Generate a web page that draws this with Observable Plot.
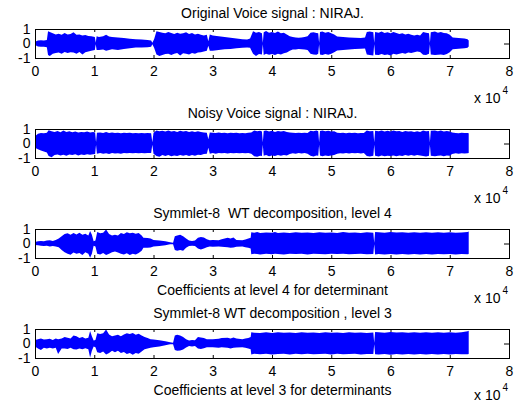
<!DOCTYPE html>
<html>
<head>
<meta charset="utf-8">
<script src="https://cdn.jsdelivr.net/npm/d3@7"></script>
<script src="https://cdn.jsdelivr.net/npm/@observablehq/plot@0.6"></script>
<style>
  html, body { margin: 0; padding: 0; background: #fff; }
  #fig { position: relative; width: 519px; height: 402px; overflow: hidden; background: #fff; }
  #fig svg { position: absolute; left: 0; }
</style>
</head>
<body>
<div id="fig"></div>
<script>
// Axis ticks shared by all four panels (samples, labelled in units of 10^4)
const xTicks = [0, 10000, 20000, 30000, 40000, 50000, 60000, 70000, 80000];
const yTicks = [-1, 0, 1];

const titles = [
  "Original Voice signal : NIRAJ.",
  "Noisy Voice signal : NIRAJ.",
  "Symmlet-8  WT decomposition, level 4",
  "Symmlet-8 WT decomposition , level 3"
];
const xLabels = [
  "",
  "",
  "Coefficients at level 4 for determinant",
  "Coefficients at level 3 for determinants"
];

// Signal envelopes: [sample / 1000, upper peak, lower peak]
const originalEnvelope = [
  [0, 0.12, -0.1], [0.5, 0.2, -0.2], [1, 0.22, -0.22], [1.5, 0.2, -0.22], [2, 0.25, -0.25],
  [2.2, 0.85, -0.8], [2.5, 0.8, -0.86], [3, 0.7, -0.7], [3.5, 0.62, -0.65], [4, 0.68, -0.62],
  [4.5, 0.6, -0.7], [5, 0.72, -0.58], [5.5, 0.62, -0.66], [6, 0.66, -0.6], [6.5, 0.78, -0.62],
  [7, 0.6, -0.7], [7.5, 0.62, -0.58], [8, 0.55, -0.75], [8.5, 0.58, -0.6], [9, 0.52, -0.55],
  [9.5, 0.5, -0.5], [10.1, 0.45, -0.45], [10.25, 0.05, -0.05], [10.4, 0.5, -0.45], [10.8, 0.45, -0.45],
  [11.5, 0.5, -0.42], [12, 0.6, -0.5], [12.5, 0.48, -0.45], [13, 0.45, -0.4], [14, 0.42, -0.45],
  [15, 0.38, -0.38], [16, 0.33, -0.33], [17, 0.3, -0.28], [18, 0.27, -0.27], [19, 0.24, -0.25],
  [19.6, 0.2, -0.22], [19.8, 0.05, -0.05], [20.1, 0.3, -0.3], [20.5, 0.85, -0.75], [21, 0.8, -0.86],
  [21.5, 0.75, -0.8], [22, 0.7, -0.72], [22.5, 0.8, -0.7], [23, 0.72, -0.8], [23.5, 0.65, -0.7],
  [24, 0.75, -0.65], [24.5, 0.68, -0.82], [25, 0.7, -0.68], [25.5, 0.78, -0.7], [26, 0.66, -0.75],
  [26.5, 0.72, -0.66], [27, 0.62, -0.7], [27.5, 0.68, -0.62], [28, 0.6, -0.6], [28.5, 0.55, -0.55],
  [29, 0.6, -0.5], [29.25, 0.15, -0.15], [29.5, 0.62, -0.5], [30, 0.55, -0.5], [31, 0.5, -0.45],
  [32, 0.45, -0.4], [33, 0.4, -0.38], [34, 0.35, -0.33], [35, 0.3, -0.3], [35.8, 0.28, -0.27],
  [36.3, 0.35, -0.3], [36.8, 0.85, -0.7], [37.3, 0.75, -0.86], [37.8, 0.8, -0.72], [38.3, 0.7, -0.75],
  [38.45, 0.05, -0.05], [38.6, 0.78, -0.8], [39, 0.86, -0.7], [39.5, 0.75, -0.78], [40, 0.8, -0.72],
  [40.5, 0.72, -0.8], [41, 0.82, -0.7], [41.5, 0.7, -0.75], [42, 0.75, -0.68], [42.5, 0.62, -0.62],
  [43, 0.5, -0.5], [43.5, 0.45, -0.42], [44, 0.42, -0.42], [44.5, 0.4, -0.38], [45, 0.42, -0.4],
  [45.5, 0.45, -0.42], [46, 0.5, -0.45], [46.5, 0.75, -0.7], [47, 0.78, -0.75], [47.5, 0.72, -0.78],
  [47.8, 0.7, -0.7], [47.95, 0.05, -0.05], [48.1, 0.8, -0.75], [48.5, 0.82, -0.8], [49, 0.75, -0.72],
  [49.5, 0.8, -0.78], [50, 0.7, -0.7], [50.5, 0.62, -0.6], [51, 0.48, -0.48], [52, 0.45, -0.45],
  [53, 0.42, -0.42], [54, 0.4, -0.38], [55, 0.38, -0.36], [55.7, 0.42, -0.35], [56, 0.8, -0.75],
  [56.5, 0.82, -0.8], [57.1, 0.78, -0.82], [57.25, 0.05, -0.05], [57.4, 0.8, -0.78], [58, 0.75, -0.8],
  [58.5, 0.82, -0.72], [59, 0.72, -0.8], [59.5, 0.78, -0.75], [60, 0.7, -0.82], [60.5, 0.8, -0.7],
  [61, 0.72, -0.76], [61.5, 0.65, -0.7], [62, 0.7, -0.65], [62.5, 0.62, -0.7], [63, 0.68, -0.62],
  [63.5, 0.6, -0.66], [64, 0.55, -0.6], [64.5, 0.6, -0.55], [65, 0.55, -0.58], [65.5, 0.8, -0.78],
  [66, 0.75, -0.8], [66.5, 0.7, -0.7], [66.65, 0.05, -0.05], [66.8, 0.78, -0.75], [67.5, 0.82, -0.8],
  [68, 0.75, -0.78], [68.5, 0.8, -0.75], [69, 0.72, -0.8], [69.5, 0.7, -0.72], [70, 0.6, -0.6],
  [70.5, 0.42, -0.4], [71, 0.4, -0.38], [71.5, 0.38, -0.36], [72, 0.36, -0.35], [72.5, 0.35, -0.33],
  [73, 0.3, -0.3], [73.2, 0.2, -0.2]
];

const noisyEnvelope = [
  [0, 0.5, -0.3], [0.5, 0.68, -0.4], [1, 0.72, -0.48], [1.5, 0.7, -0.55], [2, 0.74, -0.62],
  [2.3, 0.92, -0.86], [2.8, 0.84, -0.95], [3.3, 0.8, -0.8], [3.8, 0.86, -0.76], [4.3, 0.78, -0.82],
  [4.8, 0.9, -0.78], [5.3, 0.8, -0.84], [5.8, 0.84, -0.76], [6.3, 0.78, -0.8], [6.8, 0.82, -0.74],
  [7.3, 0.76, -0.82], [7.8, 0.8, -0.76], [8.3, 0.77, -0.8], [8.8, 0.82, -0.74], [9.3, 0.76, -0.78],
  [9.8, 0.8, -0.74], [10.15, 0.76, -0.72], [10.3, 0.08, -0.08], [10.45, 0.74, -0.7], [11, 0.76, -0.66],
  [11.5, 0.72, -0.7], [12, 0.8, -0.68], [12.5, 0.73, -0.72], [13, 0.76, -0.66], [13.5, 0.72, -0.69],
  [14, 0.75, -0.67], [14.5, 0.71, -0.7], [15, 0.74, -0.66], [15.5, 0.72, -0.68], [16, 0.75, -0.65],
  [16.5, 0.71, -0.68], [17, 0.73, -0.66], [17.5, 0.7, -0.68], [18, 0.73, -0.65], [18.5, 0.7, -0.67],
  [19, 0.72, -0.65], [19.6, 0.7, -0.66], [19.8, 0.08, -0.08], [20, 0.74, -0.7], [20.5, 0.9, -0.86],
  [21, 0.84, -0.92], [21.5, 0.88, -0.8], [22, 0.82, -0.86], [22.5, 0.9, -0.8], [23, 0.82, -0.88],
  [23.5, 0.86, -0.82], [24, 0.8, -0.86], [24.5, 0.88, -0.8], [25, 0.82, -0.84], [25.5, 0.86, -0.8],
  [26, 0.8, -0.86], [26.5, 0.85, -0.8], [27, 0.8, -0.84], [27.5, 0.84, -0.78], [28, 0.8, -0.8],
  [28.5, 0.76, -0.72], [29, 0.75, -0.7], [29.25, 0.3, -0.3], [29.5, 0.76, -0.7], [30, 0.74, -0.66],
  [30.5, 0.72, -0.7], [31, 0.76, -0.66], [31.5, 0.72, -0.68], [32, 0.74, -0.66], [32.5, 0.71, -0.69],
  [33, 0.74, -0.66], [33.5, 0.72, -0.68], [34, 0.75, -0.65], [34.5, 0.71, -0.68], [35, 0.73, -0.66],
  [35.5, 0.7, -0.68], [36, 0.74, -0.66], [36.5, 0.76, -0.7], [37, 0.9, -0.88], [37.5, 0.84, -0.92],
  [38, 0.88, -0.84], [38.3, 0.82, -0.86], [38.45, 0.08, -0.08], [38.6, 0.86, -0.84], [39, 0.9, -0.8],
  [39.5, 0.82, -0.88], [40, 0.88, -0.82], [40.5, 0.8, -0.86], [41, 0.86, -0.8], [41.5, 0.82, -0.84],
  [42, 0.86, -0.8], [42.5, 0.8, -0.82], [43, 0.76, -0.72], [43.5, 0.74, -0.68], [44, 0.72, -0.7],
  [44.5, 0.75, -0.66], [45, 0.72, -0.69], [45.5, 0.74, -0.66], [46, 0.73, -0.7], [46.5, 0.88, -0.84],
  [47, 0.84, -0.9], [47.5, 0.9, -0.82], [47.8, 0.84, -0.84], [47.95, 0.08, -0.08], [48.1, 0.86, -0.82],
  [48.5, 0.9, -0.88], [49, 0.84, -0.82], [49.5, 0.88, -0.86], [50, 0.82, -0.82], [50.5, 0.84, -0.8],
  [51, 0.74, -0.7], [51.5, 0.72, -0.67], [52, 0.75, -0.69], [52.5, 0.71, -0.66], [53, 0.74, -0.69],
  [53.5, 0.72, -0.66], [54, 0.75, -0.68], [54.5, 0.71, -0.66], [55, 0.73, -0.69], [55.5, 0.72, -0.66],
  [56, 0.9, -0.86], [56.5, 0.84, -0.9], [57.1, 0.86, -0.84], [57.25, 0.08, -0.08], [57.4, 0.88, -0.84],
  [58, 0.84, -0.9], [58.5, 0.9, -0.82], [59, 0.82, -0.88], [59.5, 0.88, -0.84], [60, 0.82, -0.86],
  [60.5, 0.9, -0.82], [61, 0.84, -0.88], [61.5, 0.86, -0.82], [62, 0.8, -0.86], [62.5, 0.86, -0.8],
  [63, 0.82, -0.84], [63.5, 0.85, -0.8], [64, 0.8, -0.84], [64.5, 0.84, -0.8], [65, 0.8, -0.82],
  [65.5, 0.9, -0.86], [66, 0.84, -0.9], [66.5, 0.86, -0.84], [66.65, 0.08, -0.08], [66.8, 0.88, -0.84],
  [67.5, 0.9, -0.88], [68, 0.84, -0.84], [68.5, 0.9, -0.82], [69, 0.82, -0.88], [69.5, 0.86, -0.82],
  [70, 0.82, -0.84], [70.4, 0.76, -0.72], [71, 0.73, -0.68], [71.5, 0.71, -0.7], [72, 0.74, -0.67],
  [72.5, 0.72, -0.69], [73, 0.73, -0.68], [73.2, 0.7, -0.66]
];

const level4Envelope = [
  [0, 0.1, -0.1], [0.5, 0.15, -0.12], [1, 0.18, -0.15], [1.5, 0.16, -0.18], [2, 0.2, -0.15],
  [2.5, 0.22, -0.2], [3, 0.18, -0.18], [3.5, 0.25, -0.2], [4, 0.35, -0.25], [4.5, 0.5, -0.45],
  [5, 0.65, -0.6], [5.5, 0.7, -0.7], [6, 0.6, -0.78], [6.5, 0.72, -0.62], [7, 0.62, -0.7],
  [7.5, 0.75, -0.65], [8, 0.6, -0.8], [8.5, 0.68, -0.6], [9, 0.55, -0.7], [9.3, 0.86, -0.98],
  [9.6, 0.6, -0.7], [9.9, 0.15, -0.15], [10.2, 0.2, -0.2], [10.5, 0.8, -0.7], [11, 0.7, -0.75],
  [11.5, 0.75, -0.65], [12, 0.96, -0.8], [12.5, 0.65, -0.7], [13, 0.55, -0.6], [13.5, 0.6, -0.55],
  [14, 0.55, -0.62], [14.5, 0.72, -0.7], [15, 0.65, -0.75], [15.5, 0.78, -0.68], [16, 0.7, -0.8],
  [16.5, 0.75, -0.7], [17, 0.68, -0.75], [17.5, 0.72, -0.65], [18, 0.55, -0.5], [18.3, 0.4, -0.3],
  [19, 0.38, -0.3], [19.5, 0.35, -0.28], [20, 0.25, -0.2], [21, 0.2, -0.18], [22, 0.15, -0.12],
  [22.8, 0.08, -0.06], [23.3, 0.05, -0.05], [23.6, 0.5, -0.45], [24, 0.55, -0.5], [24.5, 0.6, -0.45],
  [25, 0.5, -0.5], [25.5, 0.35, -0.3], [26, 0.2, -0.18], [26.5, 0.18, -0.15], [27, 0.2, -0.18],
  [27.5, 0.4, -0.35], [28, 0.45, -0.42], [28.5, 0.42, -0.35], [29, 0.3, -0.25], [29.5, 0.22, -0.2],
  [30, 0.25, -0.22], [31, 0.22, -0.2], [31.5, 0.3, -0.22], [32.5, 0.4, -0.25], [33, 0.35, -0.3],
  [33.5, 0.42, -0.28], [34, 0.25, -0.22], [35, 0.22, -0.2], [35.5, 0.28, -0.25], [36, 0.35, -0.3],
  [36.4, 0.4, -0.35], [36.5, 0.78, -0.74], [37, 0.74, -0.7], [37.5, 0.8, -0.72], [38, 0.72, -0.76],
  [39, 0.76, -0.7], [40, 0.74, -0.74], [40.5, 0.8, -0.7], [41, 0.73, -0.72], [42, 0.76, -0.75],
  [43, 0.72, -0.7], [44, 0.78, -0.73], [45, 0.74, -0.7], [46, 0.76, -0.76], [47, 0.73, -0.71],
  [48, 0.78, -0.72], [49, 0.74, -0.74], [50, 0.76, -0.7], [51, 0.72, -0.73], [52, 0.8, -0.7],
  [53, 0.74, -0.74], [54, 0.76, -0.72], [55, 0.73, -0.7], [56, 0.77, -0.74], [57.1, 0.74, -0.72],
  [57.25, 0.05, -0.05], [57.4, 0.8, -0.75], [58, 0.78, -0.72], [59, 0.74, -0.76], [60, 0.8, -0.72],
  [61, 0.76, -0.75], [62, 0.78, -0.73], [63, 0.74, -0.76], [64, 0.77, -0.72], [65, 0.75, -0.75],
  [66, 0.78, -0.73], [67, 0.74, -0.76], [68, 0.77, -0.72], [69, 0.75, -0.74], [70, 0.78, -0.72],
  [71, 0.74, -0.75], [72, 0.76, -0.72], [73, 0.8, -0.74], [73.2, 0.82, -0.72]
];

const level3Envelope = [
  [0, 0.25, -0.2], [0.5, 0.3, -0.35], [1, 0.35, -0.45], [1.5, 0.28, -0.3], [2, 0.3, -0.35],
  [2.5, 0.32, -0.3], [3, 0.25, -0.35], [3.5, 0.35, -0.3], [3.9, 0.3, -0.72], [4.5, 0.35, -0.35],
  [5, 0.45, -0.35], [5.5, 0.4, -0.38], [6, 0.35, -0.3], [6.5, 0.55, -0.4], [7, 0.5, -0.42],
  [7.5, 0.38, -0.35], [8, 0.45, -0.4], [8.5, 0.35, -0.32], [9, 0.4, -0.4], [9.3, 0.86, -0.96],
  [9.6, 0.5, -0.5], [9.9, 0.2, -0.2], [10.2, 0.25, -0.25], [10.5, 0.7, -0.6], [11, 0.65, -0.65],
  [11.5, 0.7, -0.55], [12, 0.96, -0.75], [12.5, 0.62, -0.65], [13, 0.5, -0.5], [13.5, 0.55, -0.6],
  [14, 0.6, -0.5], [14.5, 0.5, -0.65], [15, 0.62, -0.58], [15.5, 0.7, -0.72], [16, 0.65, -0.65],
  [16.5, 0.72, -0.78], [17, 0.6, -0.65], [17.5, 0.68, -0.7], [18, 0.55, -0.55], [18.5, 0.45, -0.4],
  [19, 0.38, -0.35], [19.5, 0.3, -0.3], [20, 0.28, -0.25], [21, 0.22, -0.2], [22, 0.15, -0.12],
  [22.8, 0.08, -0.06], [23.3, 0.05, -0.05], [23.6, 0.55, -0.45], [24, 0.6, -0.5], [24.5, 0.55, -0.48],
  [25, 0.45, -0.42], [25.5, 0.3, -0.28], [26, 0.2, -0.18], [26.5, 0.25, -0.2], [27, 0.22, -0.18],
  [27.5, 0.45, -0.35], [28, 0.42, -0.38], [28.5, 0.38, -0.32], [29, 0.3, -0.25], [30, 0.3, -0.25],
  [31, 0.32, -0.3], [31.5, 0.38, -0.25], [32.5, 0.4, -0.3], [33, 0.35, -0.35], [33.5, 0.42, -0.3],
  [34, 0.35, -0.28], [35, 0.3, -0.25], [35.5, 0.35, -0.3], [36, 0.38, -0.35], [36.4, 0.45, -0.4],
  [36.5, 0.78, -0.75], [37, 0.75, -0.7], [38, 0.72, -0.74], [39, 0.77, -0.7], [40, 0.73, -0.75],
  [41, 0.78, -0.72], [42, 0.74, -0.7], [43, 0.76, -0.75], [44, 0.72, -0.71], [45, 0.77, -0.74],
  [46, 0.74, -0.7], [47, 0.76, -0.74], [48, 0.73, -0.72], [49, 0.78, -0.71], [50, 0.74, -0.75],
  [51, 0.76, -0.7], [52, 0.73, -0.74], [53, 0.77, -0.72], [54, 0.74, -0.7], [55, 0.76, -0.75],
  [56, 0.73, -0.72], [57.1, 0.76, -0.73], [57.25, 0.05, -0.05], [57.4, 0.8, -0.74], [58, 0.78, -0.76],
  [59, 0.75, -0.72], [60, 0.8, -0.77], [61, 0.76, -0.73], [62, 0.78, -0.76], [63, 0.75, -0.72],
  [64, 0.77, -0.76], [65, 0.74, -0.73], [66, 0.78, -0.76], [67, 0.75, -0.72], [68, 0.77, -0.75],
  [69, 0.74, -0.73], [70, 0.78, -0.76], [71, 0.75, -0.72], [72, 0.77, -0.74], [73, 0.84, -0.74],
  [73.2, 0.88, -0.72]
];

const envelopes = [originalEnvelope, noisyEnvelope, level4Envelope, level3Envelope];

const W = 519, H = 100;
const mL = 35, mR = 10, mT = 29, mB = 42;
const boxW = W - mL - mR, boxH = H - mT - mB;
const font = "'Liberation Sans', Arial, Helvetica, sans-serif";

function panel(env, title, xLabel, last) {
  const data = env.map(([k, hi, lo]) => ({sample: k * 1000, hi, lo}));
  const expDy = last ? 41 : 44;
  return Plot.plot({
    width: W, height: H,
    marginLeft: mL, marginRight: mR, marginTop: mT, marginBottom: mB,
    style: {background: "transparent", overflow: "visible", fontFamily: font, fontSize: "14px", color: "#000"},
    x: {domain: [0, 80000]},
    y: {domain: [-1, 1]},
    marks: [
      // inward ticks on all four sides
      Plot.tickX(xTicks, {x: d => d, insetTop: boxH - 3, stroke: "#000"}),
      Plot.tickX(xTicks, {x: d => d, insetBottom: boxH - 3, stroke: "#000"}),
      Plot.tickY([0], {y: d => d, insetLeft: boxW - 5, stroke: "#000"}),
      Plot.tickY([0], {y: d => d, insetRight: boxW - 5, stroke: "#000"}),
      // the waveform, drawn as its peak envelope
      Plot.areaY(data, {x: "sample", y1: "lo", y2: "hi", fill: "#0000ff"}),
      Plot.frame({stroke: "#000"}),
      Plot.axisX({ticks: xTicks, tickSize: 0, tickPadding: 8, tickFormat: d => String(d / 10000), label: null}),
      Plot.axisY({ticks: yTicks, tickSize: 0, tickPadding: 5, tickFormat: d => String(d), label: null}),
      Plot.text([title], {frameAnchor: "top", lineAnchor: "bottom", dy: -12, fill: "#000"}),
      Plot.text([xLabel], {frameAnchor: "bottom", lineAnchor: "bottom", dy: 36, fill: "#000"}),
      Plot.text(["x 10"], {frameAnchor: "bottom-right", textAnchor: "end", lineAnchor: "bottom", dx: -9, dy: expDy, fill: "#000"}),
      Plot.text(["4"], {frameAnchor: "bottom-right", textAnchor: "start", lineAnchor: "bottom", dx: -7, dy: expDy - 9, fontSize: 10, fill: "#000"})
    ]
  });
}

const fig = document.getElementById("fig");
envelopes.forEach((env, i) => {
  const svg = panel(env, titles[i], xLabels[i], i === envelopes.length - 1);
  svg.style.top = (i * 100) + "px";
  fig.appendChild(svg);
});
</script>
</body>
</html>
